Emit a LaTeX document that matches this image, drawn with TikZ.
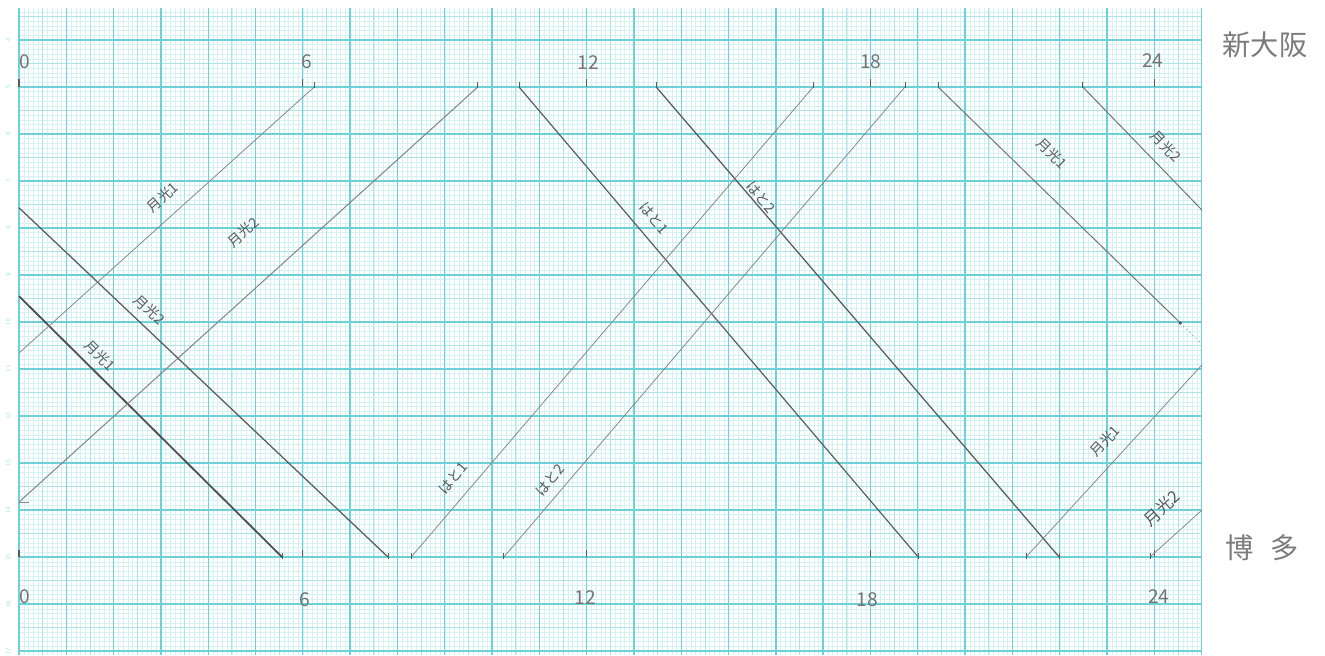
\documentclass[tikz,border=0pt]{standalone}
\usepackage{fontspec}
\newfontfamily\jpfont{Noto Sans CJK JP}
\definecolor{gridminor}{RGB}{212,241,243}
\definecolor{gridmid}{RGB}{172,228,232}
\definecolor{gridmajor}{RGB}{108,210,215}
\definecolor{pencil}{RGB}{90,90,90}

\begin{document}
\begin{tikzpicture}[x=1cm,y=0.99366cm,
  downtrain/.style={draw=pencil,line width=0.6pt},
  uptrain/.style={draw=pencil!75,line width=0.45pt},
  hourtick/.style={draw=pencil,line width=0.7pt},
  trainname/.style={font=\jpfont\fontsize{8.5}{9}\selectfont,text=pencil,inner sep=0pt},
  hourlabel/.style={font=\jpfont\fontsize{11.5}{12}\selectfont,text=pencil!85},
  stationlabel/.style={font=\jpfont\fontsize{17}{18}\selectfont,text=pencil!80},
  rownum/.style={font=\sffamily\fontsize{4}{4}\selectfont,text=gridmajor!60,rotate=90}]
\useasboundingbox (-0.402,-2.085) rectangle (27.61,11.851);
% graph paper
\draw[gridminor,line width=0.25pt,step=0.1] (0,-2.085) grid (25,11.68);
\draw[gridmid,line width=0.45pt,step=0.5] (0,-2.085) grid (25,11.68);
\draw[gridmajor,line width=0.8pt,step=1] (0,-2.085) grid (25,11.68);
\draw[gridmajor,line width=0.8pt] (25,-2.085) -- (25,11.68);
\foreach \k in {-2,...,11}{
  \pgfmathtruncatemacro\rn{15-\k}
  \node[rownum] at (-0.23,\k) {\rn};
}
% hour ticks and labels
\foreach \h in {0,6,12,18,24}{
  \draw[hourtick] (\h,10) -- ++(0,0.17);
  \draw[hourtick] (\h,0) -- ++(0,0.15);
}
\node[hourlabel] at (0.13,10.53) {0};
\node[hourlabel] at (6.09,10.53) {6};
\node[hourlabel] at (12.03,10.53) {12};
\node[hourlabel] at (18.01,10.53) {18};
\node[hourlabel] at (23.97,10.57) {24};
\node[hourlabel] at (0.13,-0.85) {0};
\node[hourlabel] at (6.05,-0.9) {6};
\node[hourlabel] at (11.97,-0.87) {12};
\node[hourlabel] at (17.93,-0.9) {18};
\node[hourlabel] at (24.1,-0.85) {24};
% down trains (Shin-Osaka to Hakata)
\draw[downtrain,line width=1.1pt,draw=pencil!90!black] (0,5.55) -- (5.56,0);
\draw[downtrain,line width=0.75pt] (0,7.43) -- (7.80,0);
\draw[downtrain,line width=0.7pt] (10.57,10) -- (19.01,0);
\draw[downtrain,line width=0.75pt] (13.47,10) -- (21.99,0);
\draw[downtrain,draw=pencil!85] (19.43,10) -- (24.55,4.98);
\draw[downtrain,draw=pencil!60,dotted] (24.55,4.98) -- (25.01,4.53);
\fill[pencil] (24.55,4.98) circle (0.04);
\draw[downtrain,draw=pencil!85] (22.49,10) -- (25.01,7.38);
% up trains (Hakata to Shin-Osaka)
\draw[uptrain] (0,4.34) -- (6.24,10);
\draw[uptrain,line width=0.6pt] (0,1.17) -- (9.70,10);
\draw[uptrain] (0,1.17) -- (0.21,1.17);
\draw[uptrain] (8.29,0) -- (16.79,10);
\draw[uptrain] (10.25,0) -- (18.73,10);
\draw[uptrain] (21.29,0) -- (25.01,4.09);
\draw[uptrain] (23.91,0) -- (25.01,1.0);
% end marks at the stations
\foreach \x in {5.56,7.80,8.29,10.25,19.01,21.29,21.99,23.91}
  \draw[pencil,line width=0.5pt] (\x,-0.05) -- (\x,0.08);
\foreach \x in {6.24,9.70,10.57,13.47,16.79,18.73,19.43,22.49}
  \draw[pencil,line width=0.5pt] (\x,9.97) -- (\x,10.1);
% train names
\node[trainname,rotate=42] at (3.04,7.66) {月光1};
\node[trainname,rotate=42] at (4.74,6.91) {月光2};
\node[trainname,rotate=-44] at (2.76,5.26) {月光2};
\node[trainname,rotate=-45] at (1.72,4.28) {月光1};
\node[trainname,rotate=-50] at (13.42,7.21) {はと1};
\node[trainname,rotate=-50] at (15.68,7.66) {はと2};
\node[trainname,rotate=-44] at (21.84,8.59) {月光1};
\node[trainname,rotate=-46] at (24.25,8.74) {月光2};
\node[trainname,rotate=50] at (9.18,1.68) {はと1};
\node[trainname,rotate=50] at (11.23,1.64) {はと2};
\node[trainname,rotate=47] at (22.96,2.47) {月光1};
\node[trainname,rotate=42,font=\jpfont\fontsize{10}{10}\selectfont] at (24.16,1.04) {月光2};
% stations
\node[stationlabel] at (26.34,10.89) {新大阪};
\node[stationlabel] at (26.28,0.19) {博\hspace{0.6em}多};
\end{tikzpicture}
\end{document}
